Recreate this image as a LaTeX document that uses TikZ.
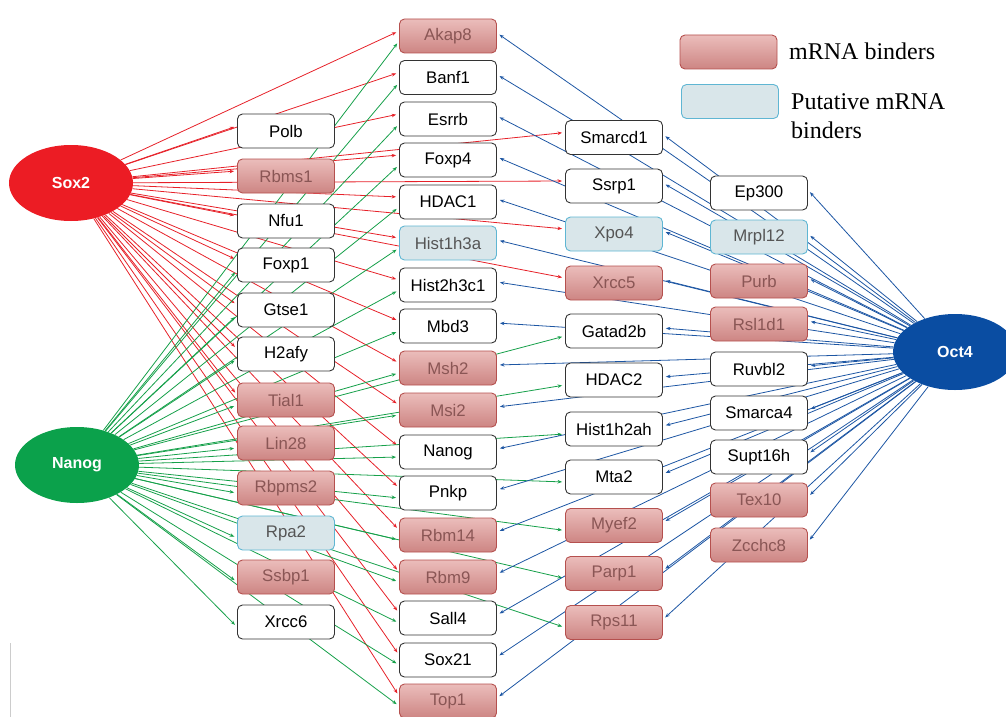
\documentclass[tikz,border=0pt]{standalone}
\usepackage{fontspec}
\setmainfont{Liberation Sans}
\newfontfamily\legendfont{Liberation Serif}
\usetikzlibrary{arrows.meta,backgrounds,shapes.geometric}
\definecolor{sred}{HTML}{EC1C24}
\definecolor{ngreen}{HTML}{0BA14B}
\definecolor{oblue}{HTML}{0A4DA2}
\definecolor{ered}{HTML}{E62129}
\definecolor{egreen}{HTML}{16A04A}
\definecolor{eblue}{HTML}{1D56A3}
\definecolor{mtop}{HTML}{EBBDBB}
\definecolor{mbot}{HTML}{CD8583}
\definecolor{mdraw}{HTML}{B5504E}
\definecolor{mtext}{HTML}{8A5655}
\definecolor{pfill}{HTML}{D9E6EA}
\definecolor{pdraw}{HTML}{5FB6D3}
\definecolor{ptext}{HTML}{555555}
\begin{document}
\begin{tikzpicture}[x=1pt,y=-1pt,
 gene/.style={draw=black!80, line width=0.9pt, rounded corners=5pt, minimum width=97pt, minimum height=34pt, fill=white, font=\fontsize{16.8}{18}\selectfont, inner sep=0pt},
 mrna/.style={gene, draw=mdraw, top color=mtop, bottom color=mbot, text=mtext},
 putative/.style={gene, draw=pdraw, fill=pfill, text=ptext},
 tf/.style={ellipse, minimum width=124pt, minimum height=76pt, inner sep=0pt, text=white, font=\fontsize{16}{18}\selectfont\bfseries},
 redge/.style={draw=ered, line width=0.8pt, -{Stealth[length=4.5pt,width=3.5pt]}, shorten >=3pt},
 gedge/.style={draw=egreen, line width=0.8pt, -{Stealth[length=4.5pt,width=3.5pt]}, shorten >=3pt},
 bedge/.style={draw=eblue, line width=0.8pt, -{Stealth[length=4.5pt,width=3.5pt]}, shorten >=3pt},
 legtext/.style={font=\legendfont\fontsize{24}{29}\selectfont, anchor=west, align=left, inner sep=0pt}
]
\useasboundingbox (0,0) rectangle (1006,717);
\clip (0,0) rectangle (1006,717);

% transcription factors
\node[tf, fill=sred] (sox2) at (71,183) {Sox2};
\node[tf, fill=ngreen] (nanogtf) at (77,465) {Nanog};
\node[tf, fill=oblue] (oct4) at (955,352) {Oct4};

% column A
\node[gene] (polb) at (286,131) {Polb};
\node[mrna] (rbms1) at (286,176) {Rbms1};
\node[gene] (nfu1) at (286,221) {Nfu1};
\node[gene] (foxp1) at (286,265) {Foxp1};
\node[gene] (gtse1) at (286,310) {Gtse1};
\node[gene] (h2afy) at (286,354) {H2afy};
\node[mrna] (tial1) at (286,400) {Tial1};
\node[mrna] (lin28) at (286,443) {Lin28};
\node[mrna] (rbpms2) at (286,488) {Rbpms2};
\node[putative] (rpa2) at (286,533) {Rpa2};
\node[mrna] (ssbp1) at (286,577) {Ssbp1};
\node[gene] (xrcc6) at (286,622) {Xrcc6};

% column B
\node[mrna] (akap8) at (448,36) {Akap8};
\node[gene] (banf1) at (448,77.5) {Banf1};
\node[gene] (esrrb) at (448,119) {Esrrb};
\node[gene] (foxp4) at (448,160) {Foxp4};
\node[gene] (hdac1) at (448,202) {HDAC1};
\node[putative] (hist1h3a) at (448,243) {Hist1h3a};
\node[gene] (hist2h3c1) at (448,285) {Hist2h3c1};
\node[gene] (mbd3) at (448,326) {Mbd3};
\node[mrna] (msh2) at (448,368) {Msh2};
\node[mrna] (msi2) at (448,410) {Msi2};
\node[gene] (nanog) at (448,452) {Nanog};
\node[gene] (pnkp) at (448,493) {Pnkp};
\node[mrna] (rbm14) at (448,535) {Rbm14};
\node[mrna] (rbm9) at (448,577) {Rbm9};
\node[gene] (sall4) at (448,618) {Sall4};
\node[gene] (sox21) at (448,660) {Sox21};
\node[mrna] (top1) at (448,701) {Top1};

% column C
\node[gene] (smarcd1) at (614,137.5) {Smarcd1};
\node[gene] (ssrp1) at (614,186) {Ssrp1};
\node[putative] (xpo4) at (614,234) {Xpo4};
\node[mrna] (xrcc5) at (614,283) {Xrcc5};
\node[gene] (gatad2b) at (614,331) {Gatad2b};
\node[gene] (hdac2) at (614,380) {HDAC2};
\node[gene] (hist1h2ah) at (614,429) {Hist1h2ah};
\node[gene] (mta2) at (614,477) {Mta2};
\node[mrna] (myef2) at (614,525.5) {Myef2};
\node[mrna] (parp1) at (614,573.5) {Parp1};
\node[mrna] (rps11) at (614,622.5) {Rps11};

% column D
\node[gene] (ep300) at (759,193) {Ep300};
\node[putative] (mrpl12) at (759,237) {Mrpl12};
\node[mrna] (purb) at (759,281) {Purb};
\node[mrna] (rsl1d1) at (759,324) {Rsl1d1};
\node[gene] (ruvbl2) at (759,369) {Ruvbl2};
\node[gene] (smarca4) at (759,413) {Smarca4};
\node[gene] (supt16h) at (759,457) {Supt16h};
\node[mrna] (tex10) at (759,500) {Tex10};
\node[mrna] (zcchc8) at (759,545) {Zcchc8};

% legend
\node[mrna] (legm) at (728.5,52) {};
\node[putative] (legp) at (730,101.5) {};
\node[legtext] (legmt) at (789,51) {mRNA binders};
\node[legtext] (legpt) at (791,116) {Putative mRNA\\binders};

% edges
\begin{scope}[on background layer]
\foreach \t in {polb,rbms1,nfu1,foxp1,gtse1,h2afy,tial1,akap8,banf1,esrrb,foxp4,hdac1,hist1h3a,hist2h3c1,mbd3,msh2,msi2,nanog,pnkp,rbm14,rbm9,sall4,sox21,top1,smarcd1,ssrp1,xpo4,xrcc5}
  \draw[redge] (sox2) -- ([yshift=5pt]\t.west);
\foreach \t in {foxp1,gtse1,h2afy,tial1,lin28,rbpms2,rpa2,ssbp1,xrcc6,akap8,banf1,esrrb,foxp4,hdac1,hist1h3a,hist2h3c1,mbd3,msh2,msi2,nanog,pnkp,rbm14,rbm9,sall4,sox21,top1,gatad2b,hdac2,hist1h2ah,mta2,myef2,parp1,rps11}
  \draw[gedge] (nanogtf) -- ([yshift=-5pt]\t.west);
\foreach \t in {akap8,banf1,esrrb,foxp4,hdac1,hist1h3a,hist2h3c1,mbd3,msh2,msi2,nanog,pnkp,rbm14,rbm9,sall4,sox21,top1,smarcd1,ssrp1,xpo4,xrcc5,gatad2b,hdac2,hist1h2ah,mta2,myef2,parp1,rps11,ep300,mrpl12,purb,rsl1d1,ruvbl2,smarca4,supt16h,tex10,zcchc8}
  \draw[bedge] (oct4) -- ([yshift=3pt]\t.east);
\coordinate (gl1) at (10,643);
\coordinate (gl2) at (10,717);
\draw[black!20, line width=0.8pt] (gl1) -- (gl2);
\end{scope}
\end{tikzpicture}
\end{document}
